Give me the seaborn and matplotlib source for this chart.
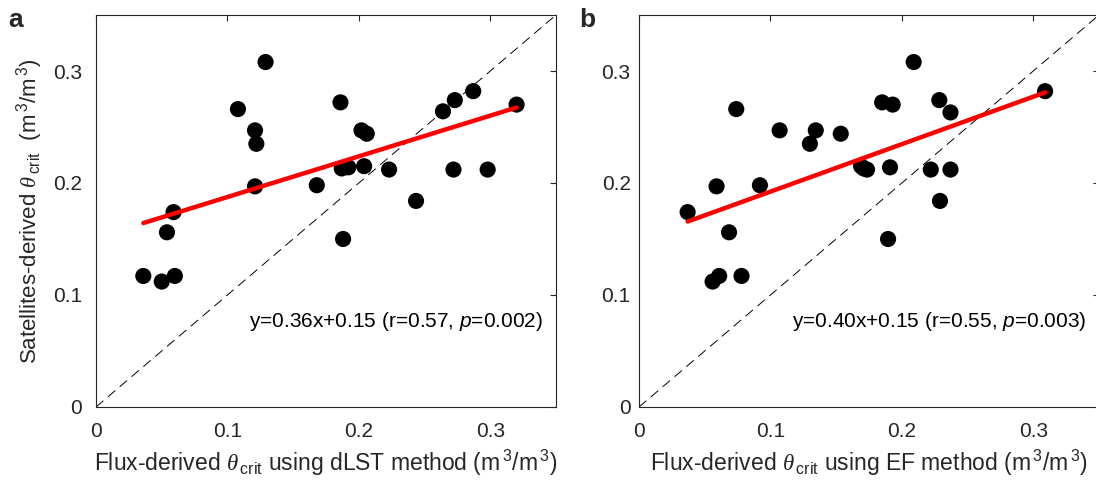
import numpy as np
import pandas as pd
import matplotlib
matplotlib.use("Agg")
import matplotlib.pyplot as plt
import seaborn as sns

# ---- data ----
dlst_x = [0.036, 0.050, 0.060, 0.054, 0.059, 0.108, 0.129, 0.121, 0.122, 0.121,
          0.168, 0.186, 0.202, 0.206, 0.187, 0.192, 0.204, 0.223, 0.2435, 0.188,
          0.264, 0.273, 0.287, 0.320, 0.272, 0.298]
dlst_y = [0.117, 0.112, 0.117, 0.156, 0.174, 0.266, 0.308, 0.247, 0.235, 0.197,
          0.198, 0.272, 0.247, 0.244, 0.213, 0.214, 0.215, 0.212, 0.184, 0.150,
          0.264, 0.274, 0.282, 0.270, 0.212, 0.212]

ef_x = [0.037, 0.059, 0.074, 0.0685, 0.056, 0.061, 0.078, 0.092, 0.107, 0.1345,
        0.130, 0.1535, 0.169, 0.1735, 0.171, 0.209, 0.185, 0.193, 0.2285, 0.237,
        0.191, 0.222, 0.237, 0.229, 0.1895, 0.309]
ef_y = [0.174, 0.197, 0.266, 0.156, 0.112, 0.117, 0.117, 0.198, 0.247, 0.247,
        0.235, 0.244, 0.215, 0.212, 0.213, 0.308, 0.272, 0.270, 0.274, 0.263,
        0.214, 0.212, 0.212, 0.184, 0.150, 0.282]

tick_vals = [0, 0.1, 0.2, 0.3]
tick_labels = ["0", "0.1", "0.2", "0.3"]
panel_letters = ["a", "b"]
fit_texts = [r"y=0.36x+0.15 (r=0.57, $\mathit{p}$=0.002)",
             r"y=0.40x+0.15 (r=0.55, $\mathit{p}$=0.003)"]
xlabels = [r"Flux-derived $\mathcal{\theta}_{\,\mathrm{crit}}$ using dLST method (m$^{\,3}$/m$^{\,3}$)",
           r"Flux-derived $\mathcal{\theta}_{\,\mathrm{crit}}$ using EF method (m$^{\,3}$/m$^{\,3}$)"]
ylabel = r"Satellites-derived $\mathcal{\theta}_{\,\mathrm{crit}}$  (m$^{\,3}$/m$^{\,3}$)"

sns.set_theme(style="white")
plt.rcParams["font.family"] = ["Liberation Sans", "DejaVu Sans"]
plt.rcParams["mathtext.fontset"] = "custom"
plt.rcParams["mathtext.rm"] = "Liberation Sans"
plt.rcParams["mathtext.it"] = "Liberation Sans:italic"
plt.rcParams["mathtext.cal"] = "Liberation Serif:italic"

fig = plt.figure(figsize=(10.96, 4.88), dpi=100)
W, H = 1096, 488
ax_a = fig.add_axes([96 / W, (H - 407) / H, 460 / W, 392 / H])
ax_b = fig.add_axes([639 / W, (H - 407) / H, 460 / W, 392 / H])

dark = "#262626"
datasets = [(dlst_x, dlst_y), (ef_x, ef_y)]
for i, (ax, (xs, ys)) in enumerate(zip([ax_a, ax_b], datasets)):
    df = pd.DataFrame({"x": xs, "y": ys})
    ax.plot([0, 0.35], [0, 0.35], color="black", lw=0.7, dashes=(10, 6))
    sns.scatterplot(data=df, x="x", y="y", ax=ax, color="black", s=135,
                    edgecolor="none", zorder=3)
    sns.regplot(data=df, x="x", y="y", ax=ax, scatter=False, ci=None,
                truncate=True, line_kws=dict(color="red", lw=3.2, zorder=4))
    ax.set_xlim(0, 0.35)
    ax.set_ylim(0, 0.35)
    ax.set_xticks(tick_vals)
    ax.set_xticklabels(tick_labels)
    ax.set_yticks(tick_vals)
    ax.set_yticklabels(tick_labels)
    ax.tick_params(direction="in", top=True, right=True, length=4, width=0.8,
                   colors=dark, labelcolor=dark, labelsize=15)
    ax.tick_params(axis="x", pad=11)
    ax.tick_params(axis="y", pad=10 if i == 0 else 6)
    for sp in ax.spines.values():
        sp.set_color(dark)
        sp.set_linewidth(0.8)
        sp.set_visible(True)
    ax.set_xlabel(xlabels[i], fontsize=16.5, color=dark, labelpad=5)
    if i == 0:
        ax.set_ylabel(ylabel, fontsize=16, color=dark, labelpad=6)
    else:
        ax.set_ylabel("")
    ax.text(0.34, 0.076, fit_texts[i], ha="right", va="center", fontsize=15,
            color="black")

fig.text(8 / W, 1 - 27 / H, panel_letters[0], fontsize=19, fontweight="bold")
fig.text(579 / W, 1 - 27 / H, panel_letters[1], fontsize=19, fontweight="bold")

fig.savefig("out.png", dpi=100)
